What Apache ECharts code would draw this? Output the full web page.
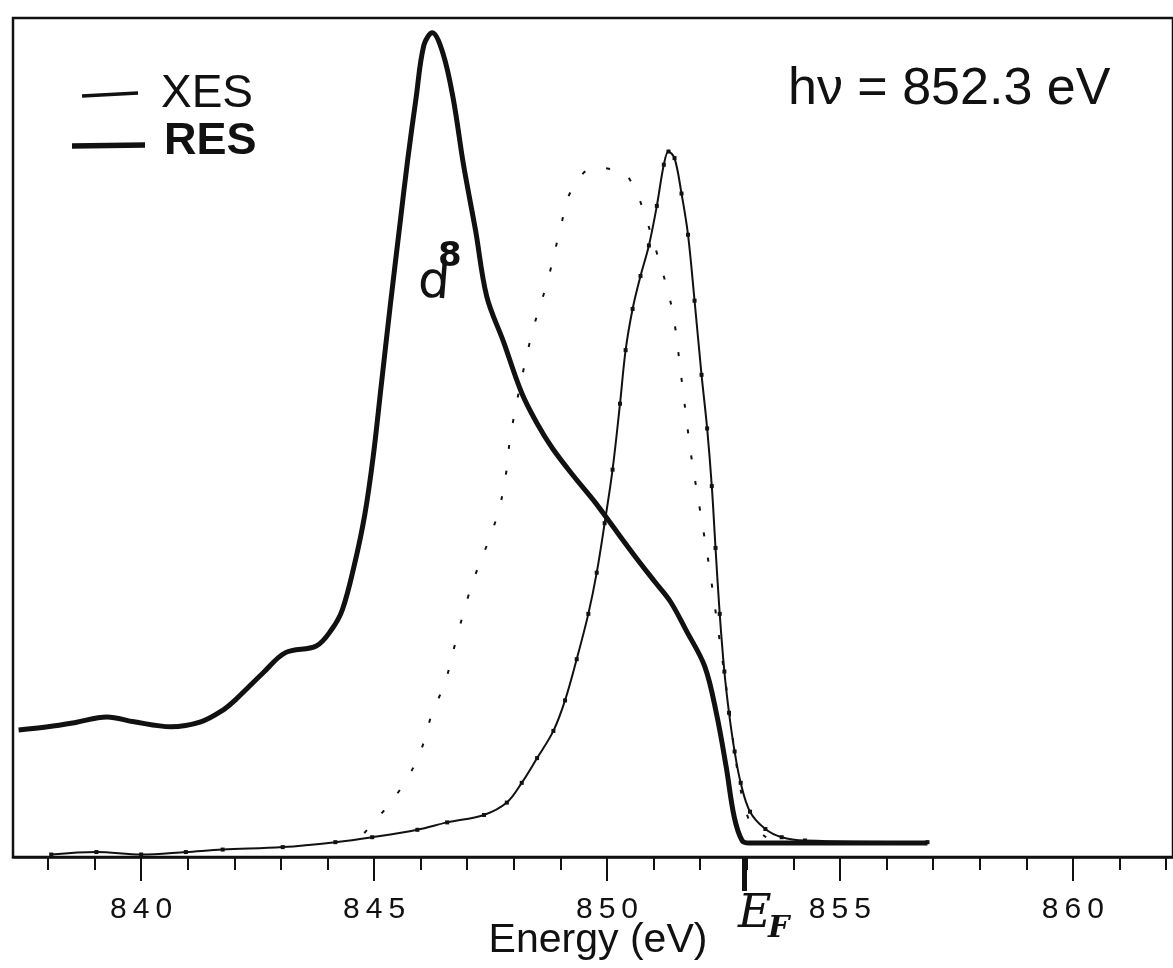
<!DOCTYPE html>
<html>
<head>
<meta charset="utf-8">
<title>XES / RES, hv = 852.3 eV</title>
<script src="https://cdn.jsdelivr.net/npm/echarts@6.0.0/dist/echarts.min.js"></script>
<style>
  html, body { margin: 0; padding: 0; background: #fff; }
  #main { width: 1173px; height: 968px; }
</style>
</head>
<body>
<div id="main"></div>
<script>
// energy axis (eV)
var minorTicks = [838, 839, 840, 841, 842, 843, 844, 845, 846, 847, 848, 849, 850,
                  851, 852, 853, 854, 855, 856, 857, 858, 859, 860, 861, 862];
var majorTicks = [840, 845, 850, 855, 860];
var fermiLevel = 852.95;

// RES, thick line (d8 peak)
var resEnergy = [837.37, 838.0, 838.57, 839.27, 839.85, 840.64, 841.28, 841.75, 842.03, 842.61,
                 843.1, 843.76, 844.09, 844.32, 844.58, 844.8, 844.98, 845.15, 845.35, 845.55,
                 845.72, 845.9, 846.07, 846.25, 846.48, 846.7, 846.92, 847.18, 847.42, 847.78,
                 848.17, 848.5, 848.84, 849.3, 849.75, 850.05, 850.6, 851.04, 851.36, 851.7,
                 852.1, 852.35, 852.56, 852.73, 852.9, 853.05, 856.88];
var resIntensity = [15.4, 15.8, 16.3, 17.0, 16.4, 15.8, 16.4, 17.8, 19.1, 22.3,
                    24.8, 25.6, 27.6, 30.0, 35.5, 41.5, 48.5, 57.0, 67.0, 76.5,
                    84.5, 92.0, 98.5, 100, 97.5, 92.0, 84.0, 76.0, 68.0, 62.5,
                    56.3, 52.6, 49.5, 46.1, 43.0, 40.7, 36.5, 33.3, 31.0, 27.5,
                    23.1, 17.4, 10.9, 4.9, 2.0, 1.7, 1.7];

// XES, thin line with data points
var xesEnergy = [838.07, 839.04, 840.0, 840.96, 841.75, 843.04, 844.17, 844.96, 845.93, 846.57,
                 847.36, 847.85, 848.17, 848.5, 848.85, 849.1, 849.35, 849.6, 849.78, 849.95,
                 850.12, 850.28, 850.4, 850.55, 850.72, 850.9, 851.07, 851.22, 851.32, 851.45,
                 851.6, 851.74, 851.88, 852.03, 852.15, 852.25, 852.33, 852.42, 852.52, 852.62,
                 852.74, 852.87, 853.07, 853.4, 853.75, 854.25, 856.88];
var xesIntensity = [0.3, 0.6, 0.3, 0.6, 0.9, 1.2, 1.8, 2.4, 3.3, 4.2,
                    5.1, 6.6, 9.0, 12.0, 15.3, 19.0, 24.0, 29.5, 34.5, 40.5,
                    47.0, 55.0, 61.5, 66.5, 70.5, 74.2, 79.0, 84.0, 85.6, 84.8,
                    80.5, 75.5, 67.5, 58.5, 52.0, 45.0, 37.5, 29.5, 22.5, 17.5,
                    12.8, 9.0, 5.5, 3.4, 2.4, 2.0, 1.8];

// dotted curve
var dotEnergy = [844.79, 845.28, 845.69, 846.01, 846.25, 846.52, 846.76, 847.02, 847.21, 847.44,
                 847.68, 847.83, 847.94, 848.37, 848.73, 849.01, 849.22, 849.73, 850.16, 850.37,
                 850.61, 850.76, 851.08, 851.4, 851.6, 851.8, 852.0, 852.2, 852.4, 852.6,
                 852.8, 853.05, 853.44];
var dotIntensity = [2.9, 6.1, 9.3, 13.0, 17.5, 21.1, 26.3, 31.6, 34.8, 38.1,
                    42.1, 46.4, 51.5, 63.1, 70.0, 76.5, 80.7, 83.7, 83.4, 83.1,
                    80.9, 78.8, 73.1, 66.4, 58.0, 49.0, 42.0, 35.0, 27.0, 19.0,
                    10.5, 4.5, 2.3];

function pairs(xs, ys) {
  var out = [];
  for (var i = 0; i < xs.length; i++) out.push([xs[i], ys[i]]);
  return out;
}

var ink = '#111';
var sans = 'Liberation Sans, Arial, sans-serif';
var xMin = 837.25, xMax = 862.15;

var chart = echarts.init(document.getElementById('main'));
var option = {
  backgroundColor: '#fff',
  animation: false,
  grid: {
    left: 13, right: -5, top: 18, bottom: 111,
    show: true, borderColor: ink, borderWidth: 2.5
  },
  xAxis: [
    {
      type: 'value', min: xMin, max: xMax, position: 'bottom',
      axisLine: { show: true, lineStyle: { color: ink, width: 2.5 } },
      axisTick: { show: true, customValues: minorTicks, length: 13, lineStyle: { color: ink, width: 2 } },
      axisLabel: { show: false },
      splitLine: { show: false },
      name: 'Energy (eV)', nameLocation: 'middle', nameGap: 63,
      nameTextStyle: { fontSize: 41, color: ink, fontFamily: sans, padding: [0, 0, 0, 10] }
    },
    {
      type: 'value', min: xMin, max: xMax, position: 'bottom',
      axisLine: { show: false },
      axisTick: { show: true, customValues: majorTicks, length: 24, lineStyle: { color: ink, width: 2 } },
      axisLabel: {
        show: true, customValues: majorTicks, margin: 38,
        fontSize: 30, color: ink, fontFamily: sans,
        formatter: function (v) { return String(v).split('').join('\u2009'); }
      },
      splitLine: { show: false }
    },
    {
      type: 'value', min: xMin, max: xMax, position: 'bottom',
      axisLine: { show: false },
      axisTick: { show: true, customValues: [fermiLevel], length: 34, lineStyle: { color: ink, width: 5 } },
      axisLabel: { show: false },
      splitLine: { show: false }
    }
  ],
  yAxis: {
    type: 'value', min: 0, max: 101.8,
    axisLine: { show: false }, axisTick: { show: false },
    axisLabel: { show: false }, splitLine: { show: false }
  },
  series: [
    {
      name: 'RES', type: 'line', xAxisIndex: 0, data: pairs(resEnergy, resIntensity),
      smooth: 0.35, showSymbol: false,
      lineStyle: { color: ink, width: 5 }
    },
    {
      name: 'XES', type: 'line', xAxisIndex: 0, data: pairs(xesEnergy, xesIntensity),
      smooth: 0.35, showSymbol: true, symbol: 'rect', symbolSize: 4,
      itemStyle: { color: ink }, lineStyle: { color: ink, width: 2 }
    },
    {
      name: 'dotted', type: 'line', xAxisIndex: 0, data: pairs(dotEnergy, dotIntensity),
      smooth: 0.35, showSymbol: false,
      lineStyle: { color: ink, width: 2, type: [4, 22] }
    }
  ],
  graphic: [
    { type: 'line', shape: { x1: 82, y1: 96, x2: 138, y2: 93 }, style: { stroke: ink, lineWidth: 3.5 } },
    { type: 'line', shape: { x1: 72, y1: 146, x2: 145, y2: 145 }, style: { stroke: ink, lineWidth: 5.5 } },
    { type: 'text', x: 161, y: 94, style: { text: 'XES', fontSize: 46, fontFamily: sans, fill: ink, verticalAlign: 'middle' } },
    { type: 'text', x: 164, y: 142, style: { text: 'RES', fontSize: 45, fontWeight: 'bold', fontFamily: sans, fill: ink, verticalAlign: 'middle' } },
    { type: 'text', x: 788, y: 90, style: { text: 'h\u03bd = 852.3 eV', fontSize: 52, fontFamily: sans, fill: ink, verticalAlign: 'middle' } },
    { type: 'text', x: 416, y: 308, rotation: -0.08, style: { text: 'd', fontSize: 50, fontFamily: 'DejaVu Sans', fill: ink, verticalAlign: 'bottom' } },
    { type: 'text', x: 438, y: 240, style: { text: '8', fontSize: 34, fontFamily: 'DejaVu Sans', fontWeight: 'bold', fill: ink, verticalAlign: 'top' } },
    { type: 'text', x: 738, y: 892, style: { text: 'E', fontSize: 46, fontStyle: 'italic', fontFamily: 'DejaVu Serif', fill: ink, verticalAlign: 'top' } },
    { type: 'text', x: 768, y: 914, style: { text: 'F', fontSize: 30, fontStyle: 'italic', fontWeight: 'bold', fontFamily: 'DejaVu Serif', fill: ink, verticalAlign: 'top' } }
  ]
};
chart.setOption(option);
</script>
</body>
</html>
